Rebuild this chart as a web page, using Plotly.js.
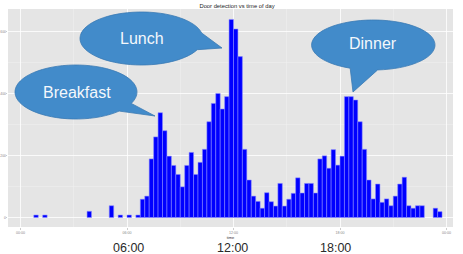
<!DOCTYPE html>
<html><head><meta charset="utf-8">
<script src="https://cdn.plot.ly/plotly-3.0.1.min.js"></script>
<style>html,body{margin:0;padding:0;background:#fff;}#chart{width:463px;height:254px;}</style>
</head><body><div id="chart"></div>
<script>
// 15-minute bins (start time) and door detection counts
const binStart = ['00:45','01:15','03:45','05:00','05:30','06:00','06:30','06:45','07:00','07:15','07:30','07:45',
  '08:00','08:15','08:30','08:45','09:00','09:15','09:30','09:45','10:00','10:15','10:30','10:45',
  '11:00','11:15','11:30','11:45','12:00','12:15','12:30','12:45','13:00','13:15','13:30','13:45',
  '14:00','14:15','14:30','14:45','15:00','15:15','15:30','15:45','16:00','16:15','16:30','16:45',
  '17:00','17:15','17:30','17:45','18:00','18:15','18:30','18:45','19:00','19:15','19:30','19:45',
  '20:00','20:15','20:30','20:45','21:00','21:15','21:30','21:45','22:00','22:15','22:30','23:15','23:30'];
const counts = [8,8,20,38,8,8,8,59,69,189,260,338,
  280,198,168,139,99,168,210,139,178,220,309,368,
  400,350,390,639,608,519,220,121,69,52,30,80,
  51,37,110,37,59,78,128,79,110,110,79,189,
  199,159,219,169,198,390,390,379,309,220,121,60,
  108,49,60,38,69,108,130,38,30,38,38,30,19];
const xTickVals = [0,6,12,18,24];
const xTickText = ['00:00','06:00','12:00','18:00','00:00'];
const yTickVals = [0,200,400,600];
const yTickText = ['0','200','400','600'];
const calloutText = ['Breakfast','Lunch','Dinner'];
const bigTimeLabels = ['06:00','12:00','18:00'];

const W=463,H=254,L=8,R=10,T=9,B=27;
const PW=W-L-R, PH=H-T-B, PB=H-B;
const binH = 0.25;
const xs = binStart.map(s=>{const [h,m]=s.split(':').map(Number);return h+m/60+binH/2;});

const fx = px => (px-L)/PW;
const fy = py => (PB-py)/PH;
const toP = (x,y)=> fx(x).toFixed(5)+','+fy(y).toFixed(5);

function bubblePath(cx,cy,rx,ry,a1,a2,tip){
  const r=Math.PI/180, start=a2*r, end=(a1+360)*r;
  const n=Math.ceil((end-start)/(Math.PI/2)), step=(end-start)/n, k=4/3*Math.tan(step/4);
  const pt=t=>[cx+rx*Math.cos(t), cy+ry*Math.sin(t)];
  let d='M'+toP(...pt(start));
  for(let i=0;i<n;i++){
    const t1=start+i*step, t2=t1+step;
    const c1=[cx+rx*(Math.cos(t1)-k*Math.sin(t1)), cy+ry*(Math.sin(t1)+k*Math.cos(t1))];
    const c2=[cx+rx*(Math.cos(t2)+k*Math.sin(t2)), cy+ry*(Math.sin(t2)-k*Math.cos(t2))];
    d+=' C'+toP(...c1)+' '+toP(...c2)+' '+toP(...pt(t2));
  }
  return d+' L'+toP(...tip)+' Z';
}

const bubbles = [
  {cx:76, cy:92, rx:61, ry:27, a1:25, a2:45, tip:[155,116], tx:77, ty:92.5},
  {cx:141.5, cy:38.5, rx:61.5, ry:26.5, a1:-12, a2:25, tip:[222,48], tx:141.5, ty:38.5},
  {cx:373.3, cy:45, rx:61.7, ry:25, a1:86, a2:112, tip:[353,92], tx:373.3, ty:43.5}
];
const bubbleColor='#428bca';
const shapes = bubbles.map(b=>({type:'path', xref:'paper', yref:'paper',
  path:bubblePath(b.cx,b.cy,b.rx,b.ry,b.a1,b.a2,b.tip),
  fillcolor:bubbleColor, line:{color:'#3a7ab4', width:0.8}, layer:'above'}));

const font='"Liberation Sans", Arial, sans-serif';
const annotations = bubbles.map((b,i)=>({xref:'paper',yref:'paper',x:fx(b.tx),y:fy(b.ty),
  text:calloutText[i], showarrow:false, xanchor:'center', yanchor:'middle',
  font:{family:font,size:16,color:'#f4f8fc'}}));
const bigPos=[[128,248],[232,248.5],[335,248]];
bigTimeLabels.forEach((t,i)=>annotations.push({xref:'paper',yref:'paper',x:fx(bigPos[i][0]),y:fy(bigPos[i][1]),
  text:t, showarrow:false, xanchor:'center', yanchor:'middle', font:{family:font,size:12.5,color:'#2a2a2a'}}));

const trace={type:'bar', x:xs, y:counts, width:binH,
  marker:{color:'#0000ff', line:{color:'rgba(140,140,255,0.9)', width:0.6}}, hoverinfo:'skip'};

const layout={width:W,height:H,margin:{l:L,r:R,t:T,b:B,pad:0},
  paper_bgcolor:'#ffffff', plot_bgcolor:'#e5e5e5', showlegend:false, bargap:0,
  font:{family:font},
  title:{text:'Door detection vs time of day', font:{family:font,size:5.8,color:'#222'},
    xref:'container', x:237/W, xanchor:'center', yref:'container', y:1-6/H, yanchor:'middle'},
  xaxis:{range:[(L-20.5)/17.75,(W-R-20.5)/17.75], tickmode:'array', tickvals:xTickVals, ticktext:xTickText,
    showgrid:true, gridcolor:'#ffffff', gridwidth:0.8, zeroline:false, ticks:'outside', ticklen:2,
    tickcolor:'#999', tickwidth:0.5, tickfont:{family:font,size:3.6,color:'#888'},
    minor:{tickvals:[3,9,15,21], showgrid:true, gridcolor:'#f2f2f2', gridwidth:0.5, ticks:''},
    title:{text:'time', font:{family:font,size:4,color:'#333'}, standoff:1}, fixedrange:true},
  yaxis:{range:[-30.6,672.6], tickmode:'array', tickvals:yTickVals, ticktext:yTickText,
    showgrid:true, gridcolor:'#ffffff', gridwidth:0.8, zeroline:false, ticks:'outside', ticklen:1.5,
    tickcolor:'#999', tickwidth:0.5, tickfont:{family:font,size:3.3,color:'#888'}, ticklabelstandoff:-1,
    minor:{tickvals:[100,300,500], showgrid:true, gridcolor:'#f2f2f2', gridwidth:0.5, ticks:''}, fixedrange:true},
  shapes:shapes, annotations:annotations};

Plotly.newPlot('chart',[trace],layout,{displayModeBar:false,staticPlot:true});
</script></body></html>
